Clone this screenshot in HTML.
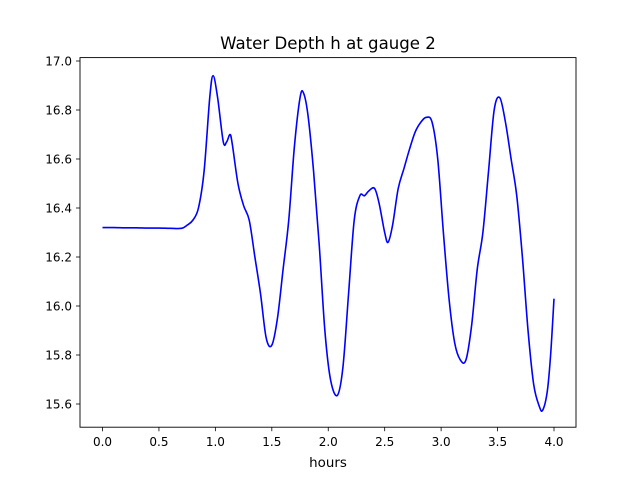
<!DOCTYPE html>
<html><head><meta charset="utf-8"><style>
body{margin:0;background:#fff;}
svg text{font-family:"DejaVu Sans","Liberation Sans",sans-serif;}
</style></head><body>
<svg width="640" height="480" xmlns="http://www.w3.org/2000/svg">
<rect width="640" height="480" fill="#fff"/>
<text x="328" y="49" font-size="16.6" text-anchor="middle">Water Depth h at gauge 2</text>
<text x="328" y="467" font-size="13.4" text-anchor="middle">hours</text>
<g id="ticks"></g>
<path id="line" fill="none" stroke="#0000ff" stroke-width="1.6"/>
<rect x="80" y="57.6" width="496" height="369.6" fill="none" stroke="#000" stroke-width="0.9"/>
</svg>
<script>
const times=[0,0.1,0.2,0.3,0.4,0.5,0.6,0.7,0.75,0.8,0.85,0.9,0.95,0.98,1.02,1.07,1.1,1.13,1.15,1.2,1.25,1.3,1.35,1.4,1.45,1.5,1.55,1.6,1.65,1.7,1.75,1.78,1.82,1.87,1.92,1.97,2.02,2.08,2.13,2.18,2.23,2.28,2.32,2.36,2.41,2.45,2.5,2.53,2.57,2.62,2.67,2.72,2.77,2.82,2.87,2.92,2.97,3.02,3.07,3.12,3.17,3.22,3.27,3.32,3.37,3.42,3.47,3.52,3.57,3.62,3.67,3.72,3.77,3.82,3.87,3.9,3.94,3.97,4.0];
const depths=[16.32,16.32,16.319,16.319,16.318,16.318,16.317,16.317,16.33,16.35,16.4,16.55,16.85,16.94,16.85,16.67,16.67,16.7,16.66,16.5,16.41,16.35,16.2,16.05,15.87,15.84,15.95,16.15,16.35,16.65,16.85,16.87,16.78,16.55,16.25,15.9,15.7,15.635,15.75,16.05,16.35,16.45,16.45,16.47,16.48,16.42,16.3,16.26,16.33,16.48,16.56,16.64,16.71,16.75,16.77,16.75,16.6,16.3,16.03,15.85,15.78,15.78,15.92,16.15,16.3,16.55,16.8,16.85,16.75,16.6,16.45,16.2,15.9,15.68,15.59,15.575,15.65,15.8,16.03];
const xTicks=[0,0.5,1,1.5,2,2.5,3,3.5,4];
const xTickLabels=["0.0","0.5","1.0","1.5","2.0","2.5","3.0","3.5","4.0"];
const yTicks=[15.6,15.8,16.0,16.2,16.4,16.6,16.8,17.0];
const yTickLabels=["15.6","15.8","16.0","16.2","16.4","16.6","16.8","17.0"];
const NS="http://www.w3.org/2000/svg";
function sx(t){return 102.5+(t-0)*(554-102.5)/4;}
function sy(v){return 61+(17.0-v)*245;}
const g=document.getElementById('ticks');
xTicks.forEach((t,i)=>{
  const l=document.createElementNS(NS,'line');
  l.setAttribute('x1',sx(t));l.setAttribute('x2',sx(t));l.setAttribute('y1',427.2);l.setAttribute('y2',431.2);
  l.setAttribute('stroke','#000');l.setAttribute('stroke-width','0.8');
  
  
  g.appendChild(l);
  const tx=document.createElementNS(NS,'text');
  tx.setAttribute('x',sx(t));tx.setAttribute('y',446);tx.setAttribute('font-size','12');tx.setAttribute('text-anchor','middle');
  tx.textContent=xTickLabels[i];
  
  
  g.appendChild(tx);
});
yTicks.forEach((v,i)=>{
  const l=document.createElementNS(NS,'line');
  l.setAttribute('x1',76);l.setAttribute('x2',80);l.setAttribute('y1',sy(v));l.setAttribute('y2',sy(v));
  l.setAttribute('stroke','#000');l.setAttribute('stroke-width','0.8');
  
  
  g.appendChild(l);
  const tx=document.createElementNS(NS,'text');
  tx.setAttribute('x',72);tx.setAttribute('y',sy(v)+4.3);tx.setAttribute('font-size','12');tx.setAttribute('text-anchor','end');
  tx.textContent=yTickLabels[i];
  
  
  g.appendChild(tx);
});
const pts=times.map((t,i)=>[sx(t),sy(depths[i])]);
let d='M'+pts[0][0]+','+pts[0][1];
for(let i=0;i<pts.length-1;i++){
  const p0=pts[Math.max(0,i-1)],p1=pts[i],p2=pts[i+1],p3=pts[Math.min(pts.length-1,i+2)];
  const c1=[p1[0]+(p2[0]-p0[0])/6,p1[1]+(p2[1]-p0[1])/6];
  const c2=[p2[0]-(p3[0]-p1[0])/6,p2[1]-(p3[1]-p1[1])/6];
  d+=' C'+c1[0]+','+c1[1]+' '+c2[0]+','+c2[1]+' '+p2[0]+','+p2[1];
}
document.getElementById('line').setAttribute('d',d);
</script>
</body></html>
